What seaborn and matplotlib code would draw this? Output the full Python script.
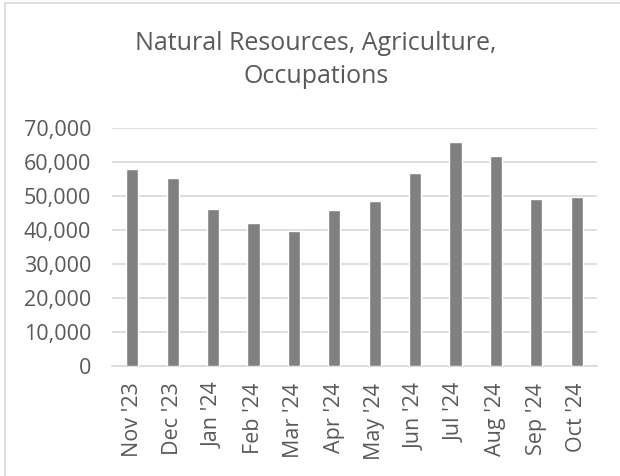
import matplotlib
matplotlib.use("Agg")
import matplotlib.pyplot as plt
import seaborn as sns
import pandas as pd
from matplotlib.lines import Line2D
from matplotlib.ticker import FuncFormatter

months = ["Nov '23", "Dec '23", "Jan '24", "Feb '24", "Mar '24", "Apr '24",
          "May '24", "Jun '24", "Jul '24", "Aug '24", "Sep '24", "Oct '24"]
counts = [57900, 55300, 46100, 42000, 39700, 45800,
          48500, 56800, 65900, 61800, 49100, 49700]

df = pd.DataFrame({"month": months, "count": counts})

sns.set_style("white")
plt.rcParams['font.family'] = ['Open Sans', 'DejaVu Sans']

fig = plt.figure(figsize=(6.2, 4.76), dpi=100)
ax = fig.add_axes([112 / 620, 1 - 366 / 476, 485 / 620, 238 / 476])

sns.barplot(x="month", y="count", data=df, color="#808080", width=0.3,
            saturation=1, ax=ax, zorder=3)

ax.set_ylim(0, 70000)
ax.set_yticks(range(0, 70001, 10000))
ax.yaxis.set_major_formatter(FuncFormatter(lambda v, p: f"{int(v):,}"))
ax.grid(axis="y", color="#d9d9d9", linewidth=1.2, zorder=0)
ax.set_xlabel("")
ax.set_ylabel("")
for s in ["top", "right", "left"]:
    ax.spines[s].set_visible(False)
ax.spines["bottom"].set_color("#d9d9d9")
ax.spines["bottom"].set_linewidth(1.2)
ax.tick_params(axis="both", length=0, colors="#595959", labelsize=15.5)
ax.tick_params(axis="y", pad=15)
ax.tick_params(axis="x", pad=12)
plt.setp(ax.get_xticklabels(), rotation=90)

fig.text(316 / 620, 1 - 60 / 476, "Natural Resources, Agriculture,\nOccupations",
         ha="center", va="center", fontsize=18, color="#595959",
         linespacing=1.45)

# chart frame (left and top edges visible)
fig.add_artist(Line2D([5 / 620, 5 / 620], [0, 1 - 3 / 476], color="#d9d9d9", lw=1.2))
fig.add_artist(Line2D([5 / 620, 1], [1 - 3 / 476, 1 - 3 / 476], color="#d9d9d9", lw=1.2))

fig.savefig("out.png", dpi=100)
